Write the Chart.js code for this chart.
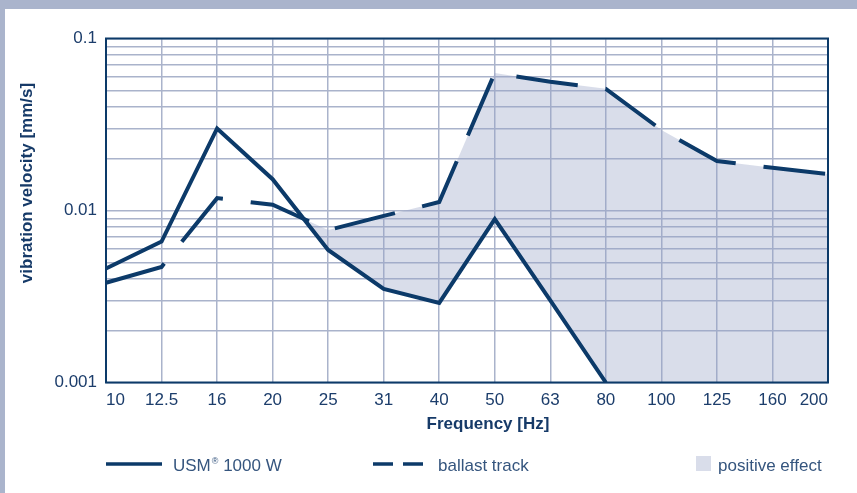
<!DOCTYPE html>
<html>
<head>
<meta charset="utf-8">
<script src="https://cdn.jsdelivr.net/npm/chart.js@4.4.1/dist/chart.umd.min.js"></script>
<style>
  html, body { margin: 0; padding: 0; width: 857px; height: 493px; overflow: hidden; background: #aab4cc; }
  #wrap { position: absolute; left: 5px; top: 9px; width: 852px; height: 484px; background: #ffffff; }
  canvas { display: block; }
</style>
</head>
<body>
<div id="wrap"><canvas id="chart" width="852" height="484"></canvas></div>
<script>
// Third-octave band centre frequencies (Hz)
const frequencies = ['10', '12.5', '16', '20', '25', '31', '40', '50', '63', '80', '100', '125', '160', '200'];

// Vibration velocity in mm/s
const usmVelocity     = [0.0046, 0.0066, 0.030, 0.0152, 0.0059, 0.0035, 0.0029, 0.0089, 0.0030, 0.0010, null, null, null, null];
const ballastVelocity = [0.0038, 0.0047, 0.0118, 0.0108, 0.0077, 0.0093, 0.0112, 0.063, 0.056, 0.051, 0.0294, 0.0194, 0.0177, 0.0163];

// Logarithmic axis: grid at every 1..9 step of each decade, labels on the decades
const yGridValues  = [0.001, 0.002, 0.003, 0.004, 0.005, 0.006, 0.007, 0.008, 0.009,
                      0.01, 0.02, 0.03, 0.04, 0.05, 0.06, 0.07, 0.08, 0.09, 0.1];
const yLabelValues = [0.001, 0.01, 0.1];
const yLabelTexts  = ['0.001', '0.01', '0.1'];

const seriesNames = ['USM\u00ae 1000 W', 'ballast track', 'positive effect'];
const xTitle = 'Frequency [Hz]';
const yTitle = 'vibration velocity [mm/s]';

const Y_MIN = 0.001, Y_MAX = 0.1;

// Lower edge of the shaded area: the USM curve, held at the axis floor once it leaves the plot
const effectFloor = usmVelocity.map(v => (v === null ? Y_MIN : Math.max(v, Y_MIN)));

const NAVY = '#0c3a69';
const GRID = '#aab3cb';
const FILL = 'rgba(150, 160, 196, 0.36)';
const TICK_COLOR = '#1c3d6b';
const TITLE_COLOR = '#163a68';
const LEGEND_COLOR = '#35557e';
const FONT = "'Liberation Sans', Arial, Helvetica, sans-serif";

// Frame round the plotting area
const frameBorder = {
  id: 'frameBorder',
  afterDatasetsDraw(chart) {
    const { ctx, chartArea: a } = chart;
    ctx.save();
    ctx.strokeStyle = NAVY;
    ctx.lineWidth = 2;
    ctx.strokeRect(a.left, a.top, a.right - a.left, a.bottom - a.top);
    ctx.restore();
  }
};

// Axis titles and the key underneath the chart
const titlesAndKey = {
  id: 'titlesAndKey',
  afterDraw(chart) {
    const { ctx, chartArea: a } = chart;
    const ds = chart.data.datasets;
    ctx.save();

    // x title
    ctx.fillStyle = TITLE_COLOR;
    ctx.font = 'bold 17px ' + FONT;
    ctx.textAlign = 'center';
    ctx.textBaseline = 'alphabetic';
    ctx.fillText(xTitle, 483, 420);

    // y title
    ctx.save();
    ctx.translate(27, 174);
    ctx.rotate(-Math.PI / 2);
    ctx.fillText(yTitle, 0, 0);
    ctx.restore();

    const keyY = 455;
    const baseY = 462;
    ctx.textAlign = 'left';

    // solid line entry
    ctx.strokeStyle = ds[0].borderColor;
    ctx.lineWidth = 3.5;
    ctx.beginPath();
    ctx.moveTo(a.left, keyY);
    ctx.lineTo(a.left + 56, keyY);
    ctx.stroke();

    ctx.fillStyle = LEGEND_COLOR;
    ctx.font = '17px ' + FONT;
    const usmParts = seriesNames[0].split('\u00ae');
    let x = 168;
    ctx.fillText(usmParts[0], x, baseY);
    x += ctx.measureText(usmParts[0]).width + 1;
    ctx.font = '9px ' + FONT;
    ctx.fillText('\u00ae', x, baseY - 7);
    x += ctx.measureText('\u00ae').width;
    ctx.font = '17px ' + FONT;
    ctx.fillText(usmParts[1], x, baseY);

    // dashed line entry
    ctx.strokeStyle = ds[1].borderColor;
    ctx.setLineDash([20, 10]);
    ctx.beginPath();
    ctx.moveTo(368, keyY);
    ctx.lineTo(418, keyY);
    ctx.stroke();
    ctx.setLineDash([]);
    ctx.fillText(seriesNames[1], 433, baseY);

    // shaded area entry
    ctx.fillStyle = ds[1].fill.above;
    ctx.fillRect(691, 447, 15, 15);
    ctx.fillStyle = LEGEND_COLOR;
    ctx.fillText(seriesNames[2], 713, baseY);

    ctx.restore();
  }
};

new Chart(document.getElementById('chart'), {
  type: 'line',
  data: {
    labels: frequencies,
    datasets: [
      {
        label: seriesNames[0],
        data: usmVelocity,
        borderColor: NAVY,
        borderWidth: 4,
        pointRadius: 0,
        fill: false,
        spanGaps: false
      },
      {
        label: seriesNames[1],
        data: ballastVelocity,
        borderColor: NAVY,
        borderWidth: 4,
        borderDash: [62, 28],
        borderCapStyle: 'butt',
        pointRadius: 0,
        fill: { target: 2, above: FILL, below: 'rgba(0,0,0,0)' }
      },
      {
        label: seriesNames[2],
        data: effectFloor,
        borderWidth: 0,
        borderColor: 'rgba(0,0,0,0)',
        pointRadius: 0,
        fill: false
      }
    ]
  },
  options: {
    responsive: false,
    animation: false,
    events: [],
    layout: { padding: { top: 29.5, right: 29, bottom: 82.5, left: 0 } },
    elements: { line: { tension: 0 }, point: { radius: 0 } },
    plugins: {
      legend: { display: false },
      tooltip: { enabled: false }
    },
    scales: {
      x: {
        type: 'category',
        offset: false,
        border: { display: false },
        grid: { color: GRID, lineWidth: 1.5, drawTicks: false },
        ticks: {
          color: TICK_COLOR,
          font: { family: FONT, size: 17 },
          padding: 8,
          autoSkip: false,
          maxRotation: 0,
          align: 'inner'
        },
        afterFit(scale) { scale.height = 28; }
      },
      y: {
        type: 'logarithmic',
        min: Y_MIN,
        max: Y_MAX,
        border: { display: false },
        grid: { color: GRID, lineWidth: 1.5, drawTicks: false },
        ticks: {
          color: TICK_COLOR,
          font: { family: FONT, size: 17 },
          padding: 9,
          autoSkip: false,
          callback(value) {
            const i = yLabelValues.findIndex(v => Math.abs(v - value) / v < 1e-6);
            return i >= 0 ? yLabelTexts[i] : '';
          }
        },
        afterBuildTicks(scale) {
          scale.ticks = yGridValues.map(v => ({ value: v }));
        },
        afterFit(scale) { scale.width = 101; }
      }
    }
  },
  plugins: [frameBorder, titlesAndKey]
});
</script>
</body>
</html>
